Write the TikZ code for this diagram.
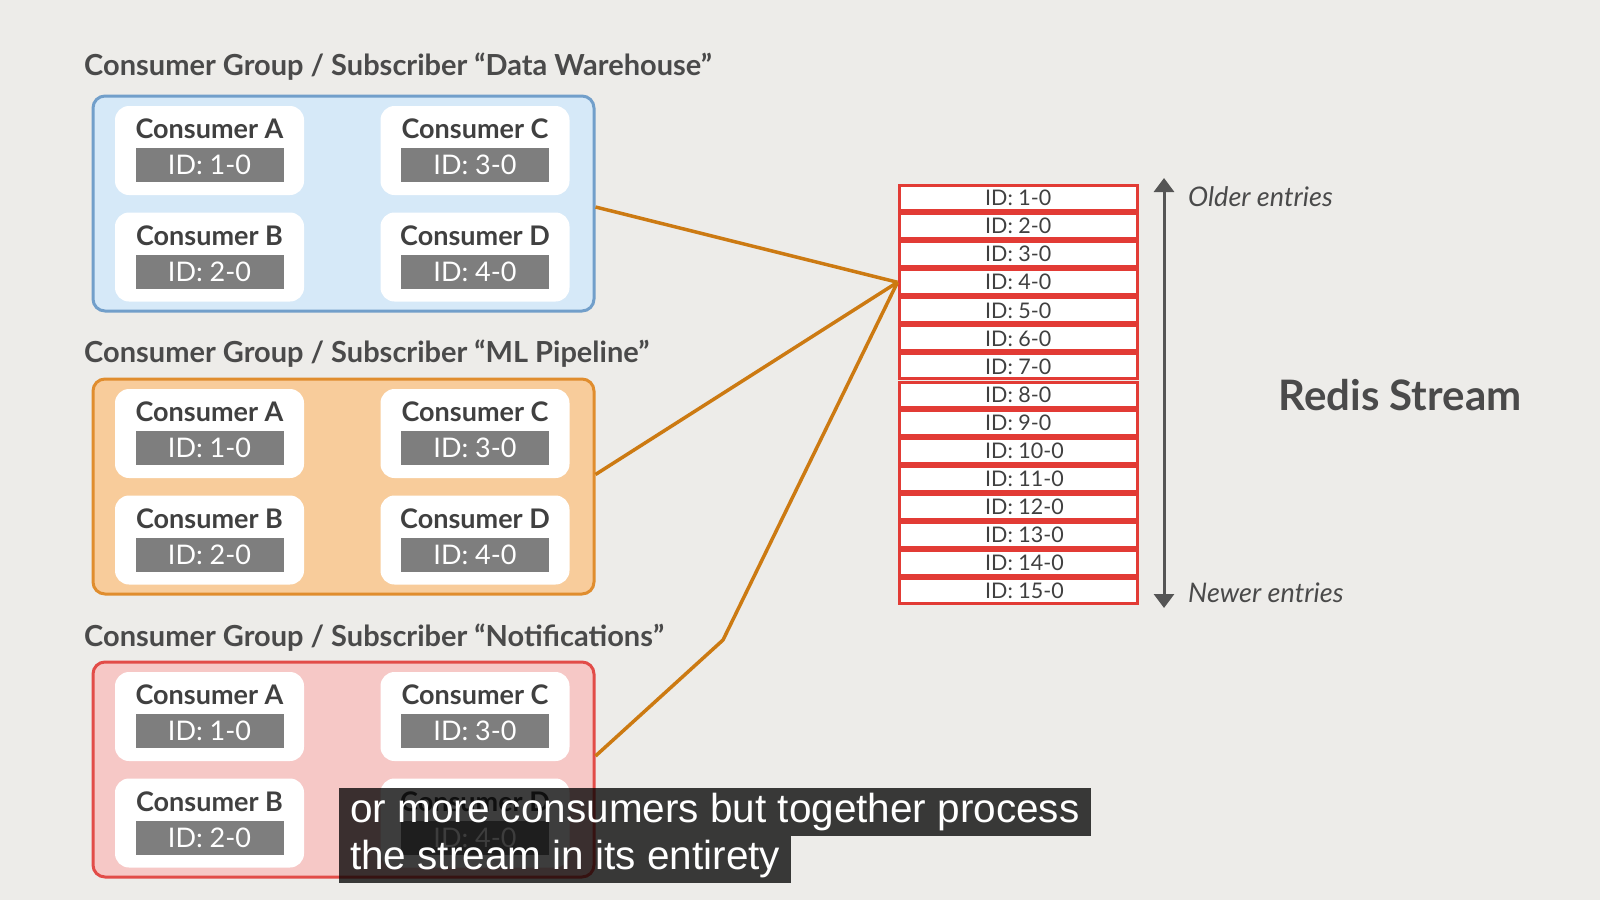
\documentclass[tikz,border=0pt]{standalone}
\usepackage{fontspec}
\setmainfont{Lato}
\newfontfamily\subfont{Liberation Sans}
\usetikzlibrary{arrows.meta,calc}
\definecolor{bg}{HTML}{EDECE9}
\definecolor{txt}{HTML}{4A4A4A}
\definecolor{ctxt}{HTML}{404040}
\definecolor{blueF}{HTML}{D6E9F8}
\definecolor{blueD}{HTML}{729FCA}
\definecolor{orF}{HTML}{F8CC9B}
\definecolor{orD}{HTML}{E08D2E}
\definecolor{redF}{HTML}{F6C8C6}
\definecolor{redD}{HTML}{E24C48}
\definecolor{idgray}{HTML}{7E7E7E}
\definecolor{link}{HTML}{CC7A12}
\definecolor{stream}{HTML}{E23B35}
\definecolor{arrowc}{HTML}{555555}
\tikzset{
  groupbox/.style={rounded corners=12pt, line width=3pt, minimum width=501pt, minimum height=215pt, inner sep=0pt},
  grouptitle/.style={anchor=west, text=txt, font=\fontsize{29}{34}\selectfont\bfseries, inner sep=0pt},
  cbox/.style={fill=white, rounded corners=14pt, minimum width=189pt, minimum height=89pt, inner sep=0pt},
  clabel/.style={text=ctxt, font=\fontsize{27}{32}\selectfont\bfseries, inner sep=0pt},
  idbox/.style={fill=idgray, text=white, minimum width=148pt, minimum height=34pt, inner sep=0pt, font=\fontsize{27}{32}\selectfont},
  srow/.style={fill=white, draw=stream, line width=3pt, minimum width=238pt, minimum height=25pt, inner sep=0pt},
  slabel/.style={anchor=west, inner sep=0pt, text=ctxt, font=\fontsize{21.5}{24}\selectfont},
  link/.style={draw=link, line width=3.5pt, line join=round},
  side/.style={anchor=west, text=txt, font=\fontsize{27}{30}\selectfont\itshape, inner sep=0pt},
  subbox/.style={anchor=north west, fill=black, fill opacity=0.76, text opacity=1, text=white, inner xsep=11pt, inner ysep=0pt, minimum height=47.5pt, font=\subfont\fontsize{40.5}{44}\selectfont}
}
\newcommand\consumer[5]{%
  \node[cbox] (#1) at (#2,#3) {};
  \node[clabel] (#1l) at (#2,#3-21.5) {#4};
  \node[idbox] (#1i) at (#2,#3+14.5) {#5};
}
\newcommand\cgroup[6]{% name, top, fill, draw, title, title y
  \node[groupbox, fill=#3, draw=#4] (#1) at (343.5,#2+107.5) {};
  \node[grouptitle] (#1t) at (84,#6) {#5};
  \consumer{#1a}{209.5}{#2+54.5}{Consumer A}{ID: 1-0}
  \consumer{#1c}{475}{#2+54.5}{Consumer C}{ID: 3-0}
  \consumer{#1b}{209.5}{#2+161}{Consumer B}{ID: 2-0}
  \consumer{#1d}{475}{#2+161}{Consumer D}{ID: 4-0}
}
\begin{document}
\begin{tikzpicture}[x=1pt,y=-1pt]
\fill[bg] (0,0) rectangle (1600,900);
\useasboundingbox (0,0) rectangle (1600,900);

\cgroup{gB}{96}{blueF}{blueD}{Consumer Group / Subscriber “Data Warehouse”}{67}
\cgroup{gO}{379}{orF}{orD}{Consumer Group / Subscriber “ML Pipeline”}{354}
\cgroup{gR}{662}{redF}{redD}{Consumer Group / Subscriber “Notifications”}{638}

% stream
\foreach \i in {1,...,15}{
  \node[srow] (r\i) at (1018,{184+28.07*(\i-0.5)}) {};
  \node[slabel] (r\i l) at (985,{184+28.07*(\i-0.5)}) {ID: \i-0};
}

% arrow
\coordinate (atop) at (1164,178);
\coordinate (abot) at (1164,608);
\draw[arrowc, line width=3pt, {Triangle[width=20pt,length=14pt]}-{Triangle[width=20pt,length=14pt]}] (atop) -- (abot);
\node[side] (older) at (1188,197) {Older entries};
\node[side] (newer) at (1188,593) {Newer entries};
\node[text=txt, font=\fontsize{42}{48}\selectfont\bfseries, inner sep=0pt] (title) at (1400,395) {Redis Stream};

% links
\coordinate (bend) at (723,640);
\draw[link] ([yshift=-3.5pt]gB.east) -- (r4.west);
\draw[link] ([yshift=12pt]gO.east) -- (r4.west);
\draw[link] ([yshift=13.5pt]gR.east) -- (bend) -- (r4.west);

% subtitles
\node[subbox] (sub1) at (339,788) {or more consumers but together process};
\node[subbox] (sub2) at (339,835.5) {the stream in its entirety};
\end{tikzpicture}
\end{document}
